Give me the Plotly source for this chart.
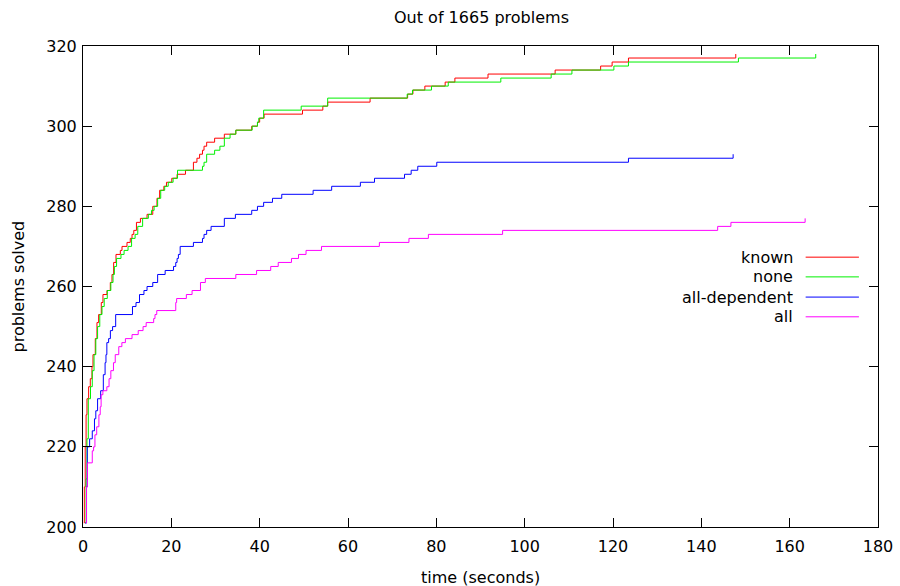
import plotly.graph_objects as go

# ---- data (time in seconds, cumulative problems solved) ----
known_t = [0.2, 0.3, 0.5, 0.7, 0.9, 1.27, 1.65, 2.03, 2.26, 2.78, 3.16, 3.54, 4.14, 4.52, 5.43, 6.18, 6.56, 6.94, 7.47, 8.45, 8.83, 9.96, 10.7, 11.1, 11.5, 12.1, 13.0, 14.5, 15.8, 16.75, 17.35, 18.3, 18.9, 20.1, 21.3, 23.2, 25.0, 25.8, 26.4, 27.05, 27.4, 28.0, 29.8, 32.0, 34.6, 38.2, 39.5, 40.0, 41.0, 49.7, 54.3, 55.4, 65.0, 73.5, 74.7, 77.4, 82.0, 84.2, 91.7, 106.9, 117.2, 119.8, 123.5, 147.8]
known_n = [201, 210, 220, 228, 232, 235, 237, 240, 243, 247, 251, 253, 256, 258, 259, 261, 263, 266, 268, 269, 270, 271, 272, 273, 274, 276, 277, 278, 280, 282, 284, 285, 286, 287, 288, 289, 291, 292, 293, 294, 295, 296, 297, 298, 299, 300, 301, 302, 303, 304, 305, 306, 307, 308, 309, 310, 311, 312, 313, 314, 315, 316, 317, 318]

none_t = [0.5, 0.7, 0.9, 1.2, 1.7, 2.1, 2.5, 2.9, 3.3, 3.8, 4.3, 4.8, 5.5, 6.3, 6.8, 7.1, 7.6, 8.6, 9.3, 10.2, 11.0, 11.8, 12.4, 13.5, 14.8, 15.5, 16.1, 16.9, 17.6, 18.5, 19.3, 20.4, 21.4, 27.05, 27.4, 28.0, 29.8, 31.0, 32.0, 33.3, 34.6, 38.3, 39.5, 39.8, 40.9, 49.4, 55.4, 73.4, 74.6, 78.9, 82.7, 94.6, 106.0, 110.7, 120.2, 123.5, 148.4, 165.9]
none_n = [201, 212, 222, 232, 235, 239, 243, 247, 250, 253, 255, 257, 259, 261, 263, 265, 267, 268, 269, 270, 272, 273, 275, 277, 278, 279, 280, 282, 284, 285, 286, 287, 289, 290, 291, 293, 294, 295, 297, 298, 299, 300, 301, 302, 304, 305, 307, 308, 309, 310, 311, 312, 313, 314, 315, 316, 317, 318]

alldep_t = [0.5, 0.8, 0.97, 1.5, 2.1, 2.6, 2.9, 3.3, 4.0, 4.6, 5.0, 5.2, 5.4, 5.8, 6.2, 6.7, 7.4, 11.2, 12.0, 12.8, 13.8, 14.5, 15.8, 16.9, 18.6, 20.5, 21.0, 21.3, 21.6, 22.0, 25.0, 27.05, 27.4, 28.0, 29.0, 32.0, 34.5, 38.2, 39.5, 40.9, 42.9, 45.0, 52.1, 56.3, 62.8, 66.0, 72.8, 74.3, 75.8, 80.1, 123.5, 147.2]
alldep_n = [201, 210, 220, 222, 224, 227, 229, 232, 234, 238, 241, 243, 246, 247, 249, 250, 253, 255, 256, 258, 259, 260, 261, 263, 264, 265, 266, 267, 268, 270, 271, 272, 273, 274, 275, 277, 278, 279, 280, 281, 282, 283, 284, 285, 286, 287, 288, 289, 290, 291, 292, 293]

all_t = [0.6, 0.8, 1.0, 2.1, 2.4, 2.7, 3.1, 3.6, 3.9, 4.1, 4.5, 5.4, 5.9, 6.3, 6.9, 7.3, 8.1, 8.8, 9.6, 11.1, 12.5, 13.6, 14.3, 16.0, 16.3, 16.7, 21.0, 21.2, 23.4, 24.7, 26.6, 27.7, 34.6, 39.3, 42.5, 44.2, 47.2, 48.8, 50.5, 54.0, 67.1, 73.8, 78.2, 95.0, 143.7, 146.7, 163.5]
all_n = [201, 210, 216, 219, 220, 223, 225, 228, 230, 233, 234, 235, 237, 239, 241, 243, 245, 246, 247, 248, 249, 250, 251, 252, 253, 254, 256, 257, 258, 259, 261, 262, 263, 264, 265, 266, 267, 268, 269, 270, 271, 272, 273, 274, 275, 276, 277]

series_names = ["known", "none", "all-dependent", "all"]
series_colors = ["#ff0000", "#00f000", "#0000ff", "#ff00ff"]
series_data = [(known_t, known_n), (none_t, none_n), (alldep_t, alldep_n), (all_t, all_n)]

x_ticks = [0, 20, 40, 60, 80, 100, 120, 140, 160, 180]
y_ticks = [200, 220, 240, 260, 280, 300, 320]

FONT = "DejaVu Sans"
FS = 16

fig = go.Figure()
for name, color, (t, n) in zip(series_names, series_colors, series_data):
    fig.add_trace(go.Scatter(x=t, y=n, mode="lines", name=name,
                             line=dict(color=color, width=1, shape="hv"),
                             showlegend=False))

# gnuplot-style legend: text right-aligned, sample line to its right
leg_y = [0.561, 0.520, 0.478, 0.437]
for name, color, yy in zip(series_names, series_colors, leg_y):
    fig.add_annotation(x=0.895, y=yy, xref="paper", yref="paper", text=name,
                       showarrow=False, xanchor="right", yanchor="middle",
                       font=dict(family=FONT, size=FS, color="black"))
    fig.add_shape(type="line", xref="paper", yref="paper",
                  x0=0.909, x1=0.976, y0=yy, y1=yy,
                  line=dict(color=color, width=1))

# axis titles as annotations (gnuplot placement)
fig.add_annotation(x=0.5, y=0, xref="paper", yref="paper", text="time (seconds)",
                   showarrow=False, xanchor="center", yanchor="middle", yshift=-50,
                   font=dict(family=FONT, size=FS, color="black"))
fig.add_annotation(x=0, y=0.5, xref="paper", yref="paper", text="problems solved",
                   showarrow=False, xanchor="center", yanchor="middle", xshift=-65, textangle=-90,
                   font=dict(family=FONT, size=FS, color="black"))

axis_common = dict(showline=True, linecolor="black", linewidth=1, mirror="ticks",
                   ticks="inside", ticklen=9, tickcolor="black", tickwidth=1,
                   showgrid=False, zeroline=False, automargin=False,
                   tickfont=dict(family=FONT, size=FS, color="black"))

fig.update_xaxes(range=[0, 180], tickvals=x_ticks, ticktext=[str(v) for v in x_ticks],
                 ticklabelstandoff=5, **axis_common)
fig.update_yaxes(range=[200, 320], tickvals=y_ticks, ticktext=[str(v) for v in y_ticks],
                 ticklabelstandoff=2, **axis_common)

fig.update_layout(
    width=900, height=586, autosize=False,
    margin=dict(l=83, r=22, t=46, b=59, pad=0),
    paper_bgcolor="white", plot_bgcolor="white",
    title=dict(text="Out of 1665 problems", x=0.535, xanchor="center", y=0.97, yanchor="middle",
               font=dict(family=FONT, size=FS, color="black")),
)

fig.write_html("out.html")
